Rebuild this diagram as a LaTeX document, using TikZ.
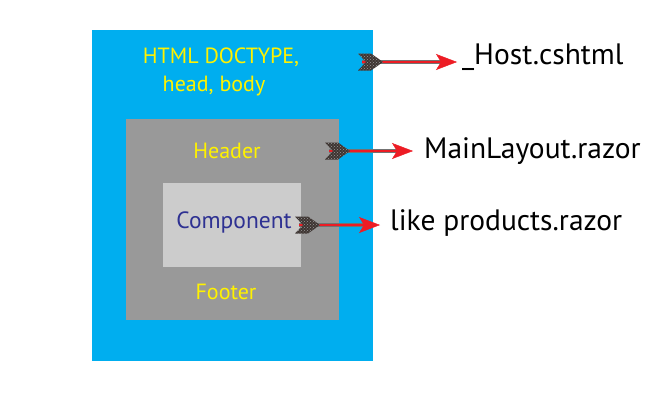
\documentclass[tikz,border=0pt]{standalone}
\usepackage{fontspec}
\setmainfont{PT Sans}
\usetikzlibrary{arrows.meta,patterns}
\definecolor{layoutblue}{HTML}{00AEEF}
\definecolor{layoutgray}{HTML}{999999}
\definecolor{compgray}{HTML}{CCCCCC}
\definecolor{compblue}{HTML}{2E3192}
\definecolor{arrowred}{HTML}{ED1C24}
\definecolor{feather}{HTML}{3E3532}
\tikzset{
  yel/.style={text=yellow,font=\fontsize{22}{26}\selectfont,inner sep=0pt},
  target/.style={text=black,font=\fontsize{29.5}{34}\selectfont,anchor=west,inner sep=0pt},
  fletch/.pic={
    \fill[feather] (-4,-8.5)--(9,-8.5)--(21,0)--(9,8.5)--(-4,8.5)--(4,0)--cycle;
    \fill[pattern=crosshatch dots,pattern color=gray!80]
      (-4,-8.5)--(9,-8.5)--(21,0)--(9,8.5)--(-4,8.5)--(4,0)--cycle;},
  shaft/.style={draw=arrowred,line width=2.6pt,
    -{Stealth[length=21pt,width=16pt,inset=5pt,fill=arrowred,line width=0.4pt]}}
}
\begin{document}
\begin{tikzpicture}[x=1pt,y=-1pt]
\useasboundingbox (0,0) rectangle (650,415);
% boxes
\fill[layoutblue] (92,30) rectangle (373,361);
\fill[layoutgray] (126,119) rectangle (339,320);
\fill[compgray] (163,183) rectangle (301,267);
% texts in the boxes
\node[yel] (doctype) at (221,57) {HTML DOCTYPE,};
\node[yel] (headbody) at (214,86) {head, body};
\node[yel] (header) at (227,151) {Header};
\node[yel,text=compblue,font=\fontsize{23.5}{28}\selectfont] (component) at (234,222) {Component};
\node[yel] (footer) at (226,292) {Footer};
% file names
\node[target] (host) at (462,57) {\_Host.cshtml};
\node[target] (mainlayout) at (424,151) {MainLayout.razor};
\node[target] (products) at (390,223) {like products.razor};
% arrows
\coordinate (t1) at (362,62);
\coordinate (t2) at (329,151);
\coordinate (t3) at (299,225);
\foreach \t/\h/\gap in {t1/host/5,t2/mainlayout/11,t3/products/10}{
  \draw[draw=black!55,line width=3.6pt,shorten >=\gap pt+14pt] (\t) -- (\t -| \h.west);
  \draw[shaft,shorten >=\gap pt] (\t) -- (\t -| \h.west);
  \pic at (\t) {fletch};
}
\end{tikzpicture}
\end{document}
